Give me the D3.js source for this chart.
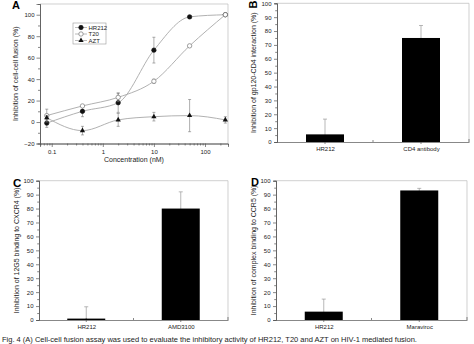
<!DOCTYPE html>
<html>
<head>
<meta charset="utf-8">
<script src="https://cdn.jsdelivr.net/npm/d3@7"></script>
<style>
  body { margin: 0; background: #fff; }
  svg { display: block; font-family: "Liberation Sans", Arial, sans-serif; }
  .tick text { font-size: 6px; fill: #222; }
  .domain, .tick line { stroke: #555; stroke-width: 0.7; }
</style>
</head>
<body>
<svg width="474" height="344"></svg>
<script>
var svg = d3.select("svg");

// panel A: cell-cell fusion dose response
var concentrations = [0.08, 0.4, 2, 10, 50, 250];
var hr212Fusion = [-1, 10, 18, 67, 98, 100];
var hr212FusionErr = [4, 5, 9, 12, 0, 0];
var t20Fusion = [6, 15, 23, 38, 71, 100];
var t20FusionErr = [6, 0, 4, 2, 0, 0];
var aztFusion = [4, -8, 2, 5, 6, 2];
var aztFusionErr = [2, 4, 6, 4, 15, 3];
var fusionTicks = [-20, 0, 20, 40, 60, 80, 100];
var concTickLabels = ["0.1", "1", "10", "100"];

// panels B-D: bar charts
var gp120Groups = ["HR212", "CD4 antibody"];
var gp120Values = [5.5, 75];
var gp120Err = [11, 9];

var cxcr4Groups = ["HR212", "AMD3100"];
var cxcr4Values = [1, 80];
var cxcr4Err = [8.5, 12];

var ccr5Groups = ["HR212", "Maraviroc"];
var ccr5Values = [6, 93];
var ccr5Err = [9, 1.5];

var barTicks = [0, 10, 20, 30, 40, 50, 60, 70, 80, 90, 100];

var lineGrey = "#a8a8a8";

function yTitle(x, yMid, text) {
    svg.append("text")
        .attr("transform", "translate(" + x + "," + yMid + ") rotate(-90)")
        .attr("text-anchor", "middle")
        .attr("font-size", 7)
        .attr("fill", "#222")
        .text(text);
}

function frame(x0, x1, y0, y1) {
    svg.append("path")
        .attr("d", "M" + x0 + "," + y0 + "H" + x1 + "V" + y1)
        .attr("fill", "none")
        .attr("stroke", "#bbb")
        .attr("stroke-width", 0.7);
}

function marker(shape, cx, cy) {
    if (shape === "tri") {
        svg.append("path")
            .attr("d", d3.symbol(d3.symbolTriangle, 12)())
            .attr("transform", "translate(" + cx + "," + cy + ")")
            .attr("fill", "#111");
    } else {
        svg.append("circle")
            .attr("cx", cx).attr("cy", cy).attr("r", 2.2)
            .attr("fill", shape === "fill" ? "#111" : "#fff")
            .attr("stroke", shape === "fill" ? "#111" : "#777")
            .attr("stroke-width", 0.7);
    }
}

// ---------- panel A ----------
(function () {
    var left = 40, right = 228, top = 4, bottom = 143.5;
    var x = d3.scaleLog().domain([0.059, 282]).range([left, right]);
    var y = d3.scaleLinear().domain([-20, 110]).range([bottom, top]);

    frame(left, right, top, bottom);

    var minor = [];
    [0.01, 0.1, 1, 10, 100].forEach(function (d) {
        for (var k = 2; k <= 9; k++) {
            var v = d * k;
            if (v > 0.059 && v < 282) minor.push(v);
        }
    });
    svg.append("g")
        .attr("transform", "translate(0," + bottom + ")")
        .call(d3.axisBottom(x).tickValues(minor).tickSize(2).tickFormat(""));
    svg.append("g")
        .attr("transform", "translate(0," + bottom + ")")
        .call(d3.axisBottom(x).tickValues([0.1, 1, 10, 100]).tickSize(3.5).tickPadding(3)
            .tickFormat(function (d, i) { return concTickLabels[i]; }));

    svg.append("g")
        .attr("transform", "translate(" + left + ",0)")
        .call(d3.axisLeft(y).tickValues(d3.range(-10, 110, 20)).tickSize(2).tickFormat(""));
    svg.append("g")
        .attr("transform", "translate(" + left + ",0)")
        .call(d3.axisLeft(y).tickValues(fusionTicks).tickSize(3.5).tickPadding(2));

    yTitle(18, (top + bottom) / 2, "Inhibition of cell-cell fusion (%)");
    svg.append("text")
        .attr("x", (left + right) / 2).attr("y", 162)
        .attr("text-anchor", "middle").attr("font-size", 7).attr("fill", "#222")
        .text("Concentration (nM)");

    var series = [
        { name: "HR212", vals: hr212Fusion, err: hr212FusionErr, shape: "fill" },
        { name: "T20", vals: t20Fusion, err: t20FusionErr, shape: "open" },
        { name: "AZT", vals: aztFusion, err: aztFusionErr, shape: "tri" }
    ];

    var line = d3.line()
        .x(function (d) { return x(d[0]); })
        .y(function (d) { return y(d[1]); })
        .curve(d3.curveMonotoneX);

    series.forEach(function (s) {
        var pts = concentrations.map(function (c, i) { return [c, s.vals[i], s.err[i]]; });
        svg.append("path")
            .attr("d", line(pts))
            .attr("fill", "none")
            .attr("stroke", lineGrey)
            .attr("stroke-width", 0.9);

        pts.forEach(function (p) {
            if (!p[2]) return;
            var cx = x(p[0]);
            svg.append("path")
                .attr("d", "M" + cx + "," + y(p[1] - p[2]) + "V" + y(p[1] + p[2]) +
                    "M" + (cx - 1.5) + "," + y(p[1] - p[2]) + "h3" +
                    "M" + (cx - 1.5) + "," + y(p[1] + p[2]) + "h3")
                .attr("stroke", "#777").attr("stroke-width", 0.6).attr("fill", "none");
        });

        pts.forEach(function (p) { marker(s.shape, x(p[0]), y(p[1])); });
    });

    // legend
    var lx = 73, ly0 = 23;
    svg.append("rect").attr("x", lx).attr("y", ly0).attr("width", 33).attr("height", 21)
        .attr("fill", "#fff").attr("stroke", "#999").attr("stroke-width", 0.6);
    series.forEach(function (s, i) {
        var ly = ly0 + 4.5 + i * 6.5;
        svg.append("line").attr("x1", lx + 2).attr("x2", lx + 14).attr("y1", ly).attr("y2", ly)
            .attr("stroke", lineGrey).attr("stroke-width", 0.8);
        marker(s.shape, lx + 8, ly);
        svg.append("text").attr("x", lx + 15.5).attr("y", ly + 2.2)
            .attr("font-size", 6).attr("fill", "#222").text(s.name);
    });

    svg.append("text").attr("x", 12).attr("y", 9)
        .attr("font-size", 11).attr("font-weight", "bold").text("A");
})();

// ---------- bar panels ----------
function barPanel(opts) {
    var x = d3.scalePoint().domain(opts.groups).range([opts.left, opts.right]).padding(0.5);
    var y = d3.scaleLinear().domain([0, 100]).range([opts.bottom, opts.top]);
    var bw = 38;

    frame(opts.left, opts.right, opts.top, opts.bottom);

    svg.append("g")
        .attr("transform", "translate(" + opts.left + ",0)")
        .call(d3.axisLeft(y).tickValues(d3.range(5, 100, 10)).tickSize(1.8).tickFormat(""));
    svg.append("g")
        .attr("transform", "translate(" + opts.left + ",0)")
        .call(d3.axisLeft(y).tickValues(barTicks).tickSize(3).tickPadding(2.5));

    var xAxis = svg.append("g")
        .attr("transform", "translate(0," + opts.bottom + ")")
        .call(d3.axisBottom(x).tickSize(0).tickPadding(5));
    xAxis.selectAll(".tick text").attr("font-size", 6.5);
    // small ticks at category centres, midway between them and at the right end
    var marks = opts.groups.map(function (g) { return x(g); })
        .concat([(x(opts.groups[0]) + x(opts.groups[1])) / 2, opts.right]);
    marks.forEach(function (m, i) {
        svg.append("line")
            .attr("x1", m).attr("x2", m)
            .attr("y1", opts.bottom - (i === 3 ? 3 : 2)).attr("y2", opts.bottom + (i < 2 ? 2 : 0))
            .attr("stroke", "#555").attr("stroke-width", 0.7);
    });

    opts.groups.forEach(function (g, i) {
        var cx = x(g), v = opts.values[i], e = opts.err[i];
        svg.append("path")
            .attr("d", "M" + cx + "," + y(Math.max(0, v - e)) + "V" + y(v + e) +
                "M" + (cx - 2) + "," + y(v + e) + "h4")
            .attr("stroke", "#999").attr("stroke-width", 0.7).attr("fill", "none");
        svg.append("rect")
            .attr("x", cx - bw / 2).attr("width", bw)
            .attr("y", y(v)).attr("height", y(0) - y(v))
            .attr("fill", "#000");
    });

    yTitle(opts.titleX, (opts.top + opts.bottom) / 2, opts.title);

    var lab = svg.append("text")
        .attr("font-size", opts.labelSize).attr("font-weight", "bold").text(opts.label);
    if (opts.labelRot) {
        lab.attr("transform", "translate(" + opts.labelX + "," + opts.labelY + ") rotate(-90)");
    } else {
        lab.attr("x", opts.labelX).attr("y", opts.labelY);
    }
}

barPanel({
    groups: gp120Groups, values: gp120Values, err: gp120Err,
    left: 277, right: 469, top: 3.3, bottom: 142,
    title: "Inhibition of gp120-CD4 interaction (%)", titleX: 256,
    label: "B", labelX: 257, labelY: 8.5, labelSize: 11, labelRot: true
});

barPanel({
    groups: cxcr4Groups, values: cxcr4Values, err: cxcr4Err,
    left: 39, right: 228, top: 180.7, bottom: 320,
    title: "Inhibition of 12G5 binding to CXCR4 (%)", titleX: 19,
    label: "C", labelX: 13, labelY: 187, labelSize: 11.5
});

barPanel({
    groups: ccr5Groups, values: ccr5Values, err: ccr5Err,
    left: 276, right: 467, top: 180.7, bottom: 320,
    title: "Inhibition of complex binding to CCR5 (%)", titleX: 256,
    label: "D", labelX: 251, labelY: 186, labelSize: 11
});

// caption line under the panels
svg.append("text")
    .attr("x", 2).attr("y", 342)
    .attr("font-size", 7.5).attr("fill", "#222")
    .text("Fig. 4 (A) Cell-cell fusion assay was used to evaluate the inhibitory activity of HR212, T20 and AZT on HIV-1 mediated fusion.");
</script>
</body>
</html>
